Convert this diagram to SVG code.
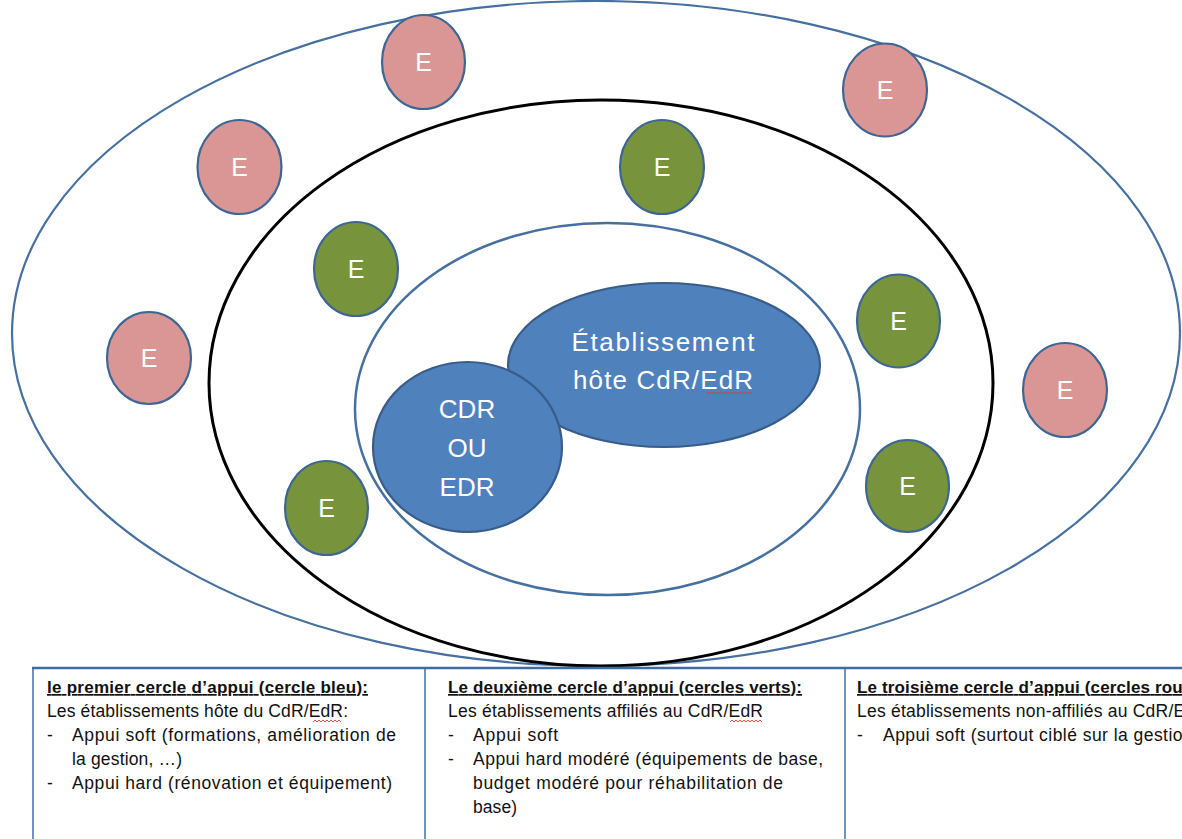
<svg xmlns="http://www.w3.org/2000/svg" width="1182" height="839" viewBox="0 0 1182 839">
  <defs>
    <style>
      .ring-outer { fill: none; stroke: #45709f; stroke-width: 2.2; }
      .ring-mid { fill: none; stroke: #000; stroke-width: 3; }
      .ring-inner { fill: #fff; stroke: #45709f; stroke-width: 2.5; }
      .core { fill: #4f81bd; stroke: #385d8a; stroke-width: 2.2; }
      .red { fill: #d99694; stroke: #3d6695; stroke-width: 2.2; }
      .green { fill: #77933c; stroke: #3d6695; stroke-width: 2.2; }
      .lbl-e { font-family: "Liberation Sans", Arial, sans-serif; font-size: 25px; fill: #fff; text-anchor: middle; }
      .lbl-core { font-family: "Liberation Sans", Arial, sans-serif; font-size: 26px; fill: #fff; text-anchor: middle; }
      .hd { font-family: "Liberation Sans", Arial, sans-serif; font-size: 17px; font-weight: bold; fill: #111; text-decoration: underline; }
      .tx { font-family: "Liberation Sans", Arial, sans-serif; font-size: 17.5px; fill: #111; }
      .grid { stroke: #4a78ad; stroke-width: 1.6; fill: none; }
      .grid-top { stroke: #3f6b9f; stroke-width: 2.6; fill: none; }
      .squiggle { fill: none; stroke: #e03a3a; stroke-width: 0.9; }
    </style>
    <clipPath id="canvas-clip">
      <rect x="0" y="0" width="1182" height="839"/>
    </clipPath>
  </defs>

  <rect x="0" y="0" width="1182" height="839" fill="#fff"/>

  <!-- concentric support rings -->
  <g id="rings">
    <ellipse id="ring-third" class="ring-outer" cx="596" cy="333.5" rx="584" ry="332.5"/>
    <ellipse id="ring-second" class="ring-mid" cx="601" cy="383" rx="392" ry="283"/>
    <ellipse id="ring-first" class="ring-inner" cx="607.5" cy="409" rx="252.5" ry="186"/>
  </g>

  <!-- connectors (none in this drawing) -->
  <g id="connectors"/>

  <!-- host establishment and the centre -->
  <g id="node-host">
    <ellipse class="core" cx="664" cy="365" rx="156" ry="82"/>
    <text class="lbl-core" x="663" y="351" textLength="183">Établissement</text>
    <text class="lbl-core" x="663" y="389" textLength="180">hôte CdR/EdR</text>
    <path class="squiggle" d="M706 394 l2 -2 l2 2 l2 -2 l2 2 l2 -2 l2 2 l2 -2 l2 2 l2 -2 l2 2 l2 -2 l2 2 l2 -2 l2 2 l2 -2 l2 2 l2 -2 l2 2 l2 -2 l2 2 l2 -2 l2 2 l2 -2"/>
  </g>
  <g id="node-centre">
    <ellipse class="core" cx="467.5" cy="447" rx="94.5" ry="85"/>
    <text class="lbl-core" x="467" y="418">CDR</text>
    <text class="lbl-core" x="467" y="457">OU</text>
    <text class="lbl-core" x="467" y="496">EDR</text>
  </g>

  <!-- affiliated establishments (second ring) -->
  <g id="node-g1"><ellipse class="green" cx="662" cy="167" rx="42" ry="47"/><text class="lbl-e" x="662" y="176">E</text></g>
  <g id="node-g2"><ellipse class="green" cx="356" cy="269" rx="42" ry="47"/><text class="lbl-e" x="356" y="278">E</text></g>
  <g id="node-g3"><ellipse class="green" cx="898.5" cy="321" rx="41.5" ry="46.5"/><text class="lbl-e" x="898.5" y="330">E</text></g>
  <g id="node-g4"><ellipse class="green" cx="326.5" cy="508" rx="41.5" ry="47"/><text class="lbl-e" x="326.5" y="517">E</text></g>
  <g id="node-g5"><ellipse class="green" cx="907.5" cy="486" rx="41.5" ry="46"/><text class="lbl-e" x="907.5" y="495">E</text></g>

  <!-- non-affiliated establishments (third ring) -->
  <g id="node-r1"><ellipse class="red" cx="423.5" cy="62" rx="41.5" ry="47"/><text class="lbl-e" x="423.5" y="71">E</text></g>
  <g id="node-r2"><ellipse class="red" cx="885" cy="90" rx="42" ry="46.5"/><text class="lbl-e" x="885" y="99">E</text></g>
  <g id="node-r3"><ellipse class="red" cx="239.5" cy="167" rx="42" ry="47"/><text class="lbl-e" x="239.5" y="176">E</text></g>
  <g id="node-r4"><ellipse class="red" cx="149" cy="358" rx="42" ry="46"/><text class="lbl-e" x="149" y="367">E</text></g>
  <g id="node-r5"><ellipse class="red" cx="1065" cy="390" rx="42" ry="47"/><text class="lbl-e" x="1065" y="399">E</text></g>

  <!-- legend table -->
  <g id="legend" clip-path="url(#canvas-clip)">
    <rect x="33" y="668" width="1160" height="180" fill="#fff"/>
    <line class="grid" x1="33" y1="668" x2="33" y2="839"/>
    <line class="grid" x1="425" y1="668" x2="425" y2="839"/>
    <line class="grid" x1="845" y1="668" x2="845" y2="839"/>
    <line class="grid-top" x1="32" y1="668" x2="1182" y2="668"/>

    <g id="legend-first">
      <text class="hd" x="47" y="693" textLength="321">le premier cercle d’appui (cercle bleu):</text>
      <text class="tx" x="47" y="717" textLength="301">Les établissements hôte du CdR/EdR:</text>
      <path class="squiggle" d="M313 722 l2 -2 l2 2 l2 -2 l2 2 l2 -2 l2 2 l2 -2 l2 2 l2 -2 l2 2 l2 -2 l2 2 l2 -2 l2 2"/>
      <text class="tx" x="47" y="741">-</text>
      <text class="tx" x="72" y="741" textLength="324">Appui soft (formations, amélioration de</text>
      <text class="tx" x="72" y="765" textLength="110">la gestion, …)</text>
      <text class="tx" x="47" y="789">-</text>
      <text class="tx" x="72" y="789" textLength="320">Appui hard (rénovation et équipement)</text>
    </g>

    <g id="legend-second">
      <text class="hd" x="448" y="693" textLength="354">Le deuxième cercle d’appui (cercles verts):</text>
      <text class="tx" x="448" y="717" textLength="315">Les établissements affiliés au CdR/EdR</text>
      <path class="squiggle" d="M730 722 l2 -2 l2 2 l2 -2 l2 2 l2 -2 l2 2 l2 -2 l2 2 l2 -2 l2 2 l2 -2 l2 2 l2 -2 l2 2 l2 -2 l2 2"/>
      <text class="tx" x="448" y="741">-</text>
      <text class="tx" x="473" y="741" textLength="85">Appui soft</text>
      <text class="tx" x="448" y="765">-</text>
      <text class="tx" x="473" y="765" textLength="350">Appui hard modéré (équipements de base,</text>
      <text class="tx" x="473" y="789" textLength="310">budget modéré pour réhabilitation de</text>
      <text class="tx" x="473" y="813" textLength="44">base)</text>
    </g>

    <g id="legend-third">
      <text class="hd" x="857" y="693" textLength="367">Le troisième cercle d’appui (cercles rouges):</text>
      <text class="tx" x="857" y="717" textLength="351">Les établissements non-affiliés au CdR/EdR</text>
      <text class="tx" x="857" y="741">-</text>
      <text class="tx" x="883" y="741" textLength="316">Appui soft (surtout ciblé sur la gestion)</text>
    </g>
  </g>
</svg>
